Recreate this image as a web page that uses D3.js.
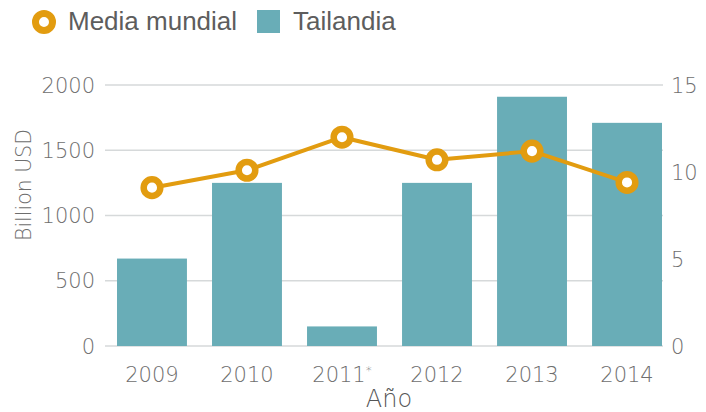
<!DOCTYPE html>
<html>
<head>
<meta charset="utf-8">
<script src="https://cdn.jsdelivr.net/npm/d3@7"></script>
<style>
  html, body { margin: 0; padding: 0; background: #fff; }
  svg { display: block; }
</style>
</head>
<body>
<svg id="chart" width="706" height="412"></svg>
<script>
// Data
const years = ["2009", "2010", "2011*", "2012", "2013", "2014"];
const tailandia = [670, 1250, 150, 1250, 1910, 1710];        // Billion USD (left axis)
const mediaMundial = [9.1, 10.1, 12.0, 10.7, 11.2, 9.4];    // right axis
const leftTicks = [0, 500, 1000, 1500, 2000];
const rightTicks = [0, 5, 10, 15];

const teal = "#69adb7";
const orange = "#e29c10";
const gray = "#6e6e6e";
const tickFont = "'DejaVu Sans', sans-serif";

const svg = d3.select("#chart");

const x = d3.scaleBand().domain(years).range([104, 675])
  .paddingInner(0.264).paddingOuter(0.137);
const yL = d3.scaleLinear().domain([0, 2000]).range([346, 85]);
const yR = d3.scaleLinear().domain([0, 15]).range([346, 85]);

// Gridlines
svg.append("g").selectAll("line").data(leftTicks).join("line")
  .attr("x1", 105).attr("x2", 663)
  .attr("y1", d => yL(d)).attr("y2", d => yL(d))
  .attr("stroke", "#d6d9da").attr("stroke-width", 1.5);

// Left axis labels
svg.append("g").selectAll("text").data(leftTicks).join("text")
  .attr("x", 95).attr("y", d => yL(d))
  .attr("dy", "0.36em")
  .attr("text-anchor", "end")
  .attr("font-family", tickFont).attr("font-weight", 200)
  .attr("font-size", 21).attr("fill", gray)
  .text(d => d);

// Right axis labels
svg.append("g").selectAll("text").data(rightTicks).join("text")
  .attr("x", 671).attr("y", d => yR(d))
  .attr("dy", "0.36em")
  .attr("text-anchor", "start")
  .attr("font-family", tickFont).attr("font-weight", 200)
  .attr("font-size", 21).attr("fill", gray)
  .text(d => d);

// Bars
svg.append("g").selectAll("rect").data(years).join("rect")
  .attr("x", d => x(d))
  .attr("width", x.bandwidth())
  .attr("y", (d, i) => yL(tailandia[i]))
  .attr("height", (d, i) => yL(0) - yL(tailandia[i]))
  .attr("fill", teal);

// X labels
svg.append("g").selectAll("text").data(years).join("text")
  .attr("x", d => x(d) + x.bandwidth() / 2)
  .attr("y", 382)
  .attr("text-anchor", "middle")
  .attr("font-family", tickFont).attr("font-weight", 200)
  .attr("font-size", 21).attr("fill", gray)
  .each(function(d) {
    const t = d3.select(this);
    if (d.endsWith("*")) {
      t.append("tspan").text(d.slice(0, -1));
      t.append("tspan").attr("font-size", 12).attr("dy", -7).text("*");
    } else {
      t.text(d);
    }
  });

// Line series
const line = d3.line()
  .x((d, i) => x(years[i]) + x.bandwidth() / 2)
  .y(d => yR(d));
svg.append("path").datum(mediaMundial)
  .attr("d", line)
  .attr("fill", "none").attr("stroke", orange)
  .attr("stroke-width", 4).attr("stroke-linejoin", "round");

svg.append("g").selectAll("circle").data(mediaMundial).join("circle")
  .attr("cx", (d, i) => x(years[i]) + x.bandwidth() / 2)
  .attr("cy", d => yR(d))
  .attr("r", 8.3)
  .attr("fill", "#fff").attr("stroke", orange).attr("stroke-width", 6.5);

// Axis titles
svg.append("text")
  .attr("transform", "translate(31,185) rotate(-90)")
  .attr("text-anchor", "middle")
  .attr("font-family", tickFont).attr("font-weight", 200)
  .attr("font-size", 20.5).attr("fill", gray)
  .text("Billion USD");

svg.append("text")
  .attr("x", 389).attr("y", 407)
  .attr("text-anchor", "middle")
  .attr("font-family", tickFont).attr("font-weight", 200)
  .attr("font-size", 24).attr("fill", "#555")
  .text("Año");

// Legend
const legend = svg.append("g");
legend.append("circle")
  .attr("cx", 44).attr("cy", 22).attr("r", 8.5)
  .attr("fill", "#fff").attr("stroke", orange).attr("stroke-width", 7);
legend.append("text")
  .attr("x", 68).attr("y", 30)
  .attr("font-family", "'Liberation Sans', Arial, sans-serif")
  .attr("font-size", 26).attr("fill", "#5d5d5d")
  .text("Media mundial");
legend.append("rect")
  .attr("x", 257).attr("y", 10).attr("width", 23).attr("height", 23)
  .attr("fill", teal);
legend.append("text")
  .attr("x", 293).attr("y", 30)
  .attr("font-family", "'Liberation Sans', Arial, sans-serif")
  .attr("font-size", 26).attr("fill", "#5d5d5d")
  .text("Tailandia");
</script>
</body>
</html>
